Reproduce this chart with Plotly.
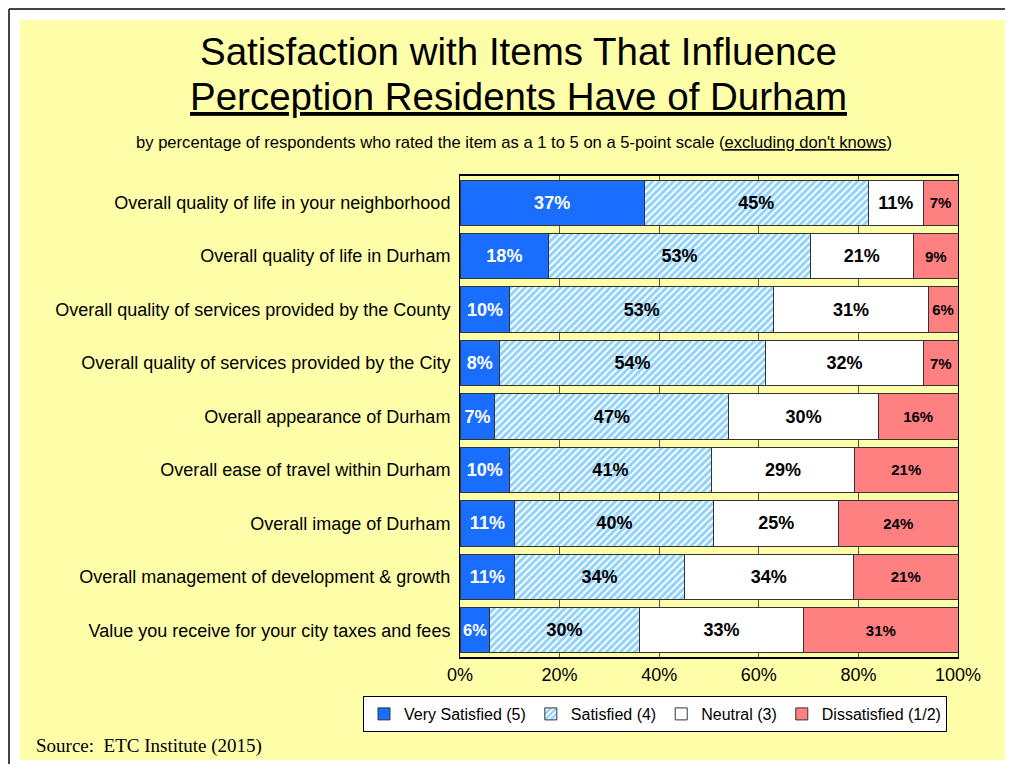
import plotly.graph_objects as go

items = [
    "Overall quality of life in your neighborhood",
    "Overall quality of life in Durham",
    "Overall quality of services provided by the County",
    "Overall quality of services provided by the City",
    "Overall appearance of Durham",
    "Overall ease of travel within Durham",
    "Overall image of Durham",
    "Overall management of development & growth",
    "Value you receive for your city taxes and fees",
]
very_satisfied = [37, 18, 10, 8, 7, 10, 11, 11, 6]
satisfied = [45, 53, 53, 54, 47, 41, 40, 34, 30]
neutral = [11, 21, 31, 32, 30, 29, 25, 34, 33]
dissatisfied = [7, 9, 6, 7, 16, 21, 24, 21, 31]
tick_vals = [0, 20, 40, 60, 80, 100]
tick_text = ["0%", "20%", "40%", "60%", "80%", "100%"]

# the page body has an 8px margin, so the figure is placed 8px in
OFF = 8
W, H = 1013 - 2 * OFF, 772 - 2 * OFF
L, R, T, B = 460 - OFF, 958 - OFF, 176 - OFF, 657 - OFF


def px_x(p):
    return (p - OFF - L) / (R - L)


def px_y(p):
    return (B - (p - OFF)) / (B - T)


FONT = "Arial, Liberation Sans, Helvetica, sans-serif"

fig = go.Figure()

series = [
    ("Very Satisfied (5)", very_satisfied, dict(color="#1A6EFF"), "white", 18),
    ("Satisfied (4)", satisfied,
     dict(color="white", pattern=dict(shape="/", fgcolor="#22A5F5", bgcolor="white",
                                      size=5, solidity=0.6)), "black", 18),
    ("Neutral (3)", neutral, dict(color="white"), "black", 18),
    ("Dissatisfied (1/2)", dissatisfied, dict(color="#FF8080"), "black", 15),
]

for name, vals, marker, tcol, tsize in series:
    fig.add_bar(
        y=items,
        x=vals,
        name=name,
        orientation="h",
        marker=dict(**marker, line=dict(color="#333333", width=1)),
        text=[f"{v}%" for v in vals],
        textposition="inside",
        insidetextanchor="middle",
        textangle=0,
        textfont=dict(color=tcol, size=tsize, family=FONT, weight="bold"),
    )

fig.update_layout(
    width=W,
    height=H,
    barmode="stack",
    barnorm="percent",
    bargap=0.15,
    margin=dict(l=L, r=W - R, t=T, b=H - B, pad=0),
    paper_bgcolor="white",
    plot_bgcolor="white",
    font=dict(family=FONT, size=18, color="black"),
    showlegend=True,
    legend=dict(
        orientation="h",
        x=px_x(363), y=px_y(696), xanchor="left", yanchor="top",
        bgcolor="white", bordercolor="black", borderwidth=1,
        font=dict(size=16), traceorder="normal",
        itemwidth=30,
    ),
)

fig.update_xaxes(
    range=[0, 100], tickvals=tick_vals, ticktext=tick_text,
    showgrid=True, gridcolor="#555555", gridwidth=1,
    showline=True, mirror=True, linecolor="black", linewidth=2,
    ticks="", zeroline=False, tickfont=dict(size=18),
)
fig.update_yaxes(
    autorange="reversed", showline=True, mirror=True,
    linecolor="black", linewidth=1, ticks="", ticksuffix=" ",
    tickfont=dict(size=18),
)

# yellow page and outer frame
fig.add_shape(type="rect", xref="paper", yref="paper",
              x0=px_x(20), x1=px_x(1009), y0=px_y(760), y1=px_y(20),
              fillcolor="#FFFFAA", line_width=0, layer="below")
fig.add_shape(type="line", xref="paper", yref="paper",
              x0=px_x(9), x1=px_x(1013), y0=px_y(9), y1=px_y(9),
              line=dict(color="#444444", width=2))
fig.add_shape(type="line", xref="paper", yref="paper",
              x0=px_x(9), x1=px_x(9), y0=px_y(9), y1=px_y(772),
              line=dict(color="#444444", width=2))

fig.add_annotation(text="Satisfaction with Items That Influence",
                   x=px_x(518), y=px_y(51), xref="paper", yref="paper",
                   xanchor="center", yanchor="middle", showarrow=False,
                   font=dict(size=38.5))
fig.add_annotation(text="<u>Perception Residents Have of Durham</u>",
                   x=px_x(518), y=px_y(96), xref="paper", yref="paper",
                   xanchor="center", yanchor="middle", showarrow=False,
                   font=dict(size=38.5))
fig.add_annotation(text="by percentage of respondents who rated the item as a 1 to 5 on a 5-point scale (<u>excluding don't knows</u>)",
                   x=px_x(514), y=px_y(142), xref="paper", yref="paper",
                   xanchor="center", yanchor="middle", showarrow=False,
                   font=dict(size=16.6))
fig.add_annotation(text="Source:  ETC Institute (2015)",
                   x=px_x(34), y=px_y(746), xref="paper", yref="paper",
                   xanchor="left", yanchor="middle", showarrow=False,
                   font=dict(size=19, family="Times New Roman, Liberation Serif, serif"))

fig.write_html("out.html")
